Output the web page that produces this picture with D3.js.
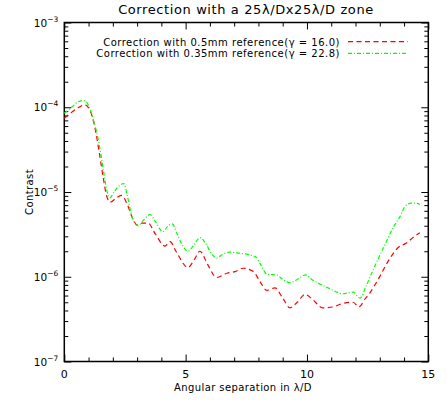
<!DOCTYPE html>
<html>
<head>
<meta charset="utf-8">
<script src="https://cdn.jsdelivr.net/npm/d3@7"></script>
<style>
  body { margin: 0; background: #fff; }
  svg text { font-family: "DejaVu Sans", "Liberation Sans", sans-serif; fill: #000; }
  .axis path, .axis line { stroke: #000; }
</style>
</head>
<body>
<div id="chart"></div>
<script>
// angular separation (lambda/D) and contrast
var xRed = [0, 0.3, 0.6, 0.85, 1.05, 1.25, 1.45, 1.6, 1.75, 1.9, 2.1, 2.35, 2.6, 2.8, 3.0, 3.2, 3.45, 3.75, 4.15, 4.36, 4.6, 5.1, 5.35, 5.59, 5.9, 6.28, 6.7, 7.03, 7.37, 7.8, 8.05, 8.35, 8.68, 9.0, 9.3, 9.6, 9.92, 10.2, 10.65, 11.07, 11.43, 11.9, 12.14, 12.4, 12.6, 12.95, 13.3, 13.75, 14.1, 14.4, 14.65];
var yRed = [7.4e-5, 8.7e-5, 1.0e-4, 1.07e-4, 9.3e-5, 6.0e-5, 2.8e-5, 1.5e-5, 8.9e-6, 7.6e-6, 8.3e-6, 9.1e-6, 7.1e-6, 5.0e-6, 4.1e-6, 4.3e-6, 4.3e-6, 3.2e-6, 2.3e-6, 2.6e-6, 2.0e-6, 1.29e-6, 1.58e-6, 2.0e-6, 1.41e-6, 9.8e-7, 1.10e-6, 1.15e-6, 1.26e-6, 1.15e-6, 8.9e-7, 6.9e-7, 7.4e-7, 5.6e-7, 4.3e-7, 5.0e-7, 6.2e-7, 5.5e-7, 4.3e-7, 4.4e-7, 4.8e-7, 5.0e-7, 4.4e-7, 5.5e-7, 6.5e-7, 9.5e-7, 1.45e-6, 2.2e-6, 2.5e-6, 2.95e-6, 3.3e-6];

var xGreen = [0, 0.3, 0.55, 0.8, 1.0, 1.2, 1.45, 1.6, 1.75, 1.88, 2.05, 2.25, 2.45, 2.6, 2.8, 3.04, 3.25, 3.53, 3.75, 4.06, 4.25, 4.45, 4.65, 4.85, 5.1, 5.35, 5.6, 5.85, 6.05, 6.28, 6.5, 6.8, 7.2, 7.6, 7.9, 8.1, 8.35, 8.75, 9.0, 9.3, 9.6, 9.95, 10.2, 10.5, 10.95, 11.48, 11.9, 12.18, 12.45, 12.72, 13.0, 13.3, 13.55, 13.83, 14.05, 14.3, 14.5, 14.65];
var yGreen = [8.5e-5, 1.0e-4, 1.15e-4, 1.2e-4, 1.05e-4, 7.1e-5, 3.5e-5, 1.9e-5, 1.05e-5, 8.5e-6, 1.0e-5, 1.17e-5, 1.26e-5, 8.9e-6, 5.0e-6, 4.0e-6, 4.6e-6, 5.4e-6, 4.5e-6, 3.4e-6, 3.9e-6, 4.2e-6, 3.2e-6, 2.4e-6, 2.0e-6, 2.4e-6, 2.9e-6, 2.4e-6, 1.9e-6, 1.66e-6, 1.82e-6, 1.95e-6, 1.9e-6, 1.82e-6, 1.7e-6, 1.38e-6, 1.07e-6, 1.05e-6, 9.3e-7, 8.5e-7, 9.3e-7, 1.05e-6, 9.3e-7, 8.3e-7, 7.2e-7, 6.3e-7, 6.6e-7, 5.6e-7, 7.9e-7, 1.2e-6, 1.78e-6, 2.7e-6, 3.8e-6, 5.1e-6, 6.8e-6, 7.4e-6, 7.4e-6, 7.1e-6];

var legendLabels = ["Correction with 0.5mm reference(\u03b3 = 16.0)", "Correction with 0.35mm reference(\u03b3 = 22.8)"];
var xTickLabels = [0, 5, 10, 15];
var yExponents = [-3, -4, -5, -6, -7];

var W = 447, H = 403;
var margin = {top: 22.5, left: 64.3, right: 18.7, bottom: 41.5};
var width = W - margin.left - margin.right,
    height = H - margin.top - margin.bottom;

var svg = d3.select("#chart").append("svg")
  .attr("width", W).attr("height", H);

var g = svg.append("g")
  .attr("transform", "translate(" + margin.left + "," + margin.top + ")");

var x = d3.scaleLinear().domain([0, 15]).range([0, width]);
var y = d3.scaleLog().domain([1e-7, 1e-3]).range([height, 0]);

// minor tick values
var xMinor = d3.range(0, 16).filter(function(v){ return v % 5 !== 0; });
var yMinor = [];
yExponents.slice(1).forEach(function(e){
  for (var k = 2; k <= 9; k++) yMinor.push(k * Math.pow(10, e));
});
var yMajor = yExponents.map(function(e){ return Math.pow(10, e); });

function drawAxis(axisFn, scale, vals, size, tr) {
  var a = g.append("g").attr("class", "axis")
    .attr("transform", tr || null)
    .call(axisFn(scale).tickValues(vals).tickSize(size).tickFormat(""));
  a.select(".domain").remove();
  a.selectAll("line").attr("stroke-width", 1);
  return a;
}

// ticks point inward on all four sides
drawAxis(d3.axisBottom, x, xTickLabels, -7, "translate(0," + height + ")");
drawAxis(d3.axisBottom, x, xMinor, -4, "translate(0," + height + ")");
drawAxis(d3.axisTop, x, xTickLabels, -7);
drawAxis(d3.axisTop, x, xMinor, -4);
drawAxis(d3.axisLeft, y, yMajor, -7);
drawAxis(d3.axisLeft, y, yMinor, -4);
drawAxis(d3.axisRight, y, yMajor, -7, "translate(" + width + ",0)");
drawAxis(d3.axisRight, y, yMinor, -4, "translate(" + width + ",0)");

// frame
g.append("rect")
  .attr("width", width).attr("height", height)
  .attr("fill", "none").attr("stroke", "#000").attr("stroke-width", 1.5);

// x tick labels
g.selectAll(".xlab").data(xTickLabels).enter().append("text")
  .attr("class", "xlab")
  .attr("x", function(d){ return x(d); })
  .attr("y", height + 16)
  .attr("text-anchor", "middle")
  .attr("font-size", 11)
  .text(function(d){ return d; });

// y tick labels as 10^n
var yl = g.selectAll(".ylab").data(yExponents).enter().append("text")
  .attr("class", "ylab")
  .attr("x", -6)
  .attr("y", function(d){ return y(Math.pow(10, d)) + 4; })
  .attr("text-anchor", "end")
  .attr("font-size", 10.5);
yl.append("tspan").text("10");
yl.append("tspan").attr("font-size", 7.5).attr("dy", -5)
  .text(function(d){ return "\u2212" + Math.abs(d); });

// axis titles
svg.append("text")
  .attr("x", 243).attr("y", 391)
  .attr("text-anchor", "middle").attr("font-size", 10)
  .attr("letter-spacing", 0.4)
  .text("Angular separation in \u03bb/D");

svg.append("text")
  .attr("transform", "translate(33," + (margin.top + height / 2) + ") rotate(-90)")
  .attr("text-anchor", "middle").attr("font-size", 10)
  .attr("letter-spacing", 0.4)
  .text("Contrast");

svg.append("text")
  .attr("x", 246).attr("y", 14)
  .attr("text-anchor", "middle").attr("font-size", 13)
  .attr("letter-spacing", 0.6)
  .text("Correction with a 25\u03bb/Dx25\u03bb/D zone");

// curves
var line = d3.line()
  .x(function(d){ return x(d[0]); })
  .y(function(d){ return y(d[1]); })
  .curve(d3.curveMonotoneX);

var series = [
  {pts: d3.zip(xRed, yRed), color: "#ff0000", dash: "5,3.5"},
  {pts: d3.zip(xGreen, yGreen), color: "#00ff00", dash: "4,2,1,2"}
];

g.selectAll(".curve").data(series).enter().append("path")
  .attr("class", "curve")
  .attr("d", function(d){ return line(d.pts); })
  .attr("fill", "none")
  .attr("stroke", function(d){ return d.color; })
  .attr("stroke-width", 1.2)
  .attr("stroke-dasharray", function(d){ return d.dash; });

// legend
var leg = svg.selectAll(".leg").data(series).enter().append("g")
  .attr("class", "leg")
  .attr("transform", function(d, i){ return "translate(0," + (41.7 + i * 11.6) + ")"; });
leg.append("line")
  .attr("x1", 348).attr("x2", 408)
  .attr("stroke", function(d){ return d.color; })
  .attr("stroke-width", 1.2)
  .attr("stroke-dasharray", function(d){ return d.dash; });
leg.append("text")
  .attr("x", 340).attr("y", 3.8)
  .attr("text-anchor", "end").attr("font-size", 10)
  .attr("letter-spacing", 0.5)
  .text(function(d, i){ return legendLabels[i]; });
</script>
</body>
</html>
